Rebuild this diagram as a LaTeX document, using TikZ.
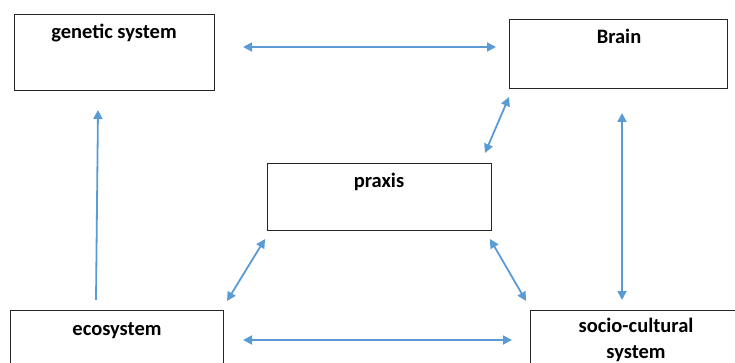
\documentclass[tikz,border=0pt]{standalone}
\usepackage{fontspec}
\setmainfont{Carlito}
\usepackage{xcolor}
\usepackage{tikz}
\usetikzlibrary{math,arrows.meta}

\definecolor{arrblue}{HTML}{5B9BD5}
\tikzset{
	box/.style={draw=black!85,line width=0.9pt,rectangle},
	boxtext/.style={font=\bfseries\fontsize{20.5}{26}\selectfont,align=center,anchor=base,inner sep=0pt},
	link/.style={draw=arrblue,line width=1.8pt,{Triangle[length=9pt,width=9pt]}-{Triangle[length=9pt,width=9pt]}},
	uplink/.style={draw=arrblue,line width=1.8pt,-{Triangle[length=9pt,width=9pt]}},
}

\begin{document}
\begin{tikzpicture}[x=1pt,y=-1pt]
\useasboundingbox (0,0) rectangle (735,363);
\begin{scope}
\clip (0,0) rectangle (735,363);
\tikzmath{
	% boxes
	{\draw[box] (14,14) rectangle (214,90);};
	{\node[boxtext] (gen) at (114,39) {genetic system};};
	{\draw[box] (509,19) rectangle (727,88);};
	{\node[boxtext] (brain) at (619,44) {Brain};};
	{\draw[box] (267,163) rectangle (491,230);};
	{\node[boxtext] (prax) at (379,188) {praxis};};
	{\draw[box] (10,310) rectangle (223,375);};
	{\node[boxtext] (eco) at (117,335) {ecosystem};};
	{\draw[box] (530,310) rectangle (742,375);};
	{\node[boxtext,anchor=north] (soc) at (636,318) {socio-cultural\\system};};
	%
	{\coordinate (gb1) at (243,47);};
	{\coordinate (gb2) at (496,47);};
	{\coordinate (eg1) at (96,300);};
	{\coordinate (eg2) at (98,110);};
	{\coordinate (bp1) at (509,97);};
	{\coordinate (bp2) at (485,153);};
	{\coordinate (bs1) at (622,113);};
	{\coordinate (bs2) at (622,300);};
	{\coordinate (pe1) at (265,239);};
	{\coordinate (pe2) at (227,301);};
	{\coordinate (ps1) at (490,239);};
	{\coordinate (ps2) at (526,301);};
	{\coordinate (es1) at (243,340);};
	{\coordinate (es2) at (512,340);};
	%
	{\draw[link] (gb1) -- (gb2);};
	{\draw[uplink] (eg1) -- (eg2);};
	{\draw[link] (bp1) -- (bp2);};
	{\draw[link] (bs1) -- (bs2);};
	{\draw[link] (pe1) -- (pe2);};
	{\draw[link] (ps1) -- (ps2);};
	{\draw[link] (es1) -- (es2);};
};
\end{scope}
\end{tikzpicture}
\end{document}
